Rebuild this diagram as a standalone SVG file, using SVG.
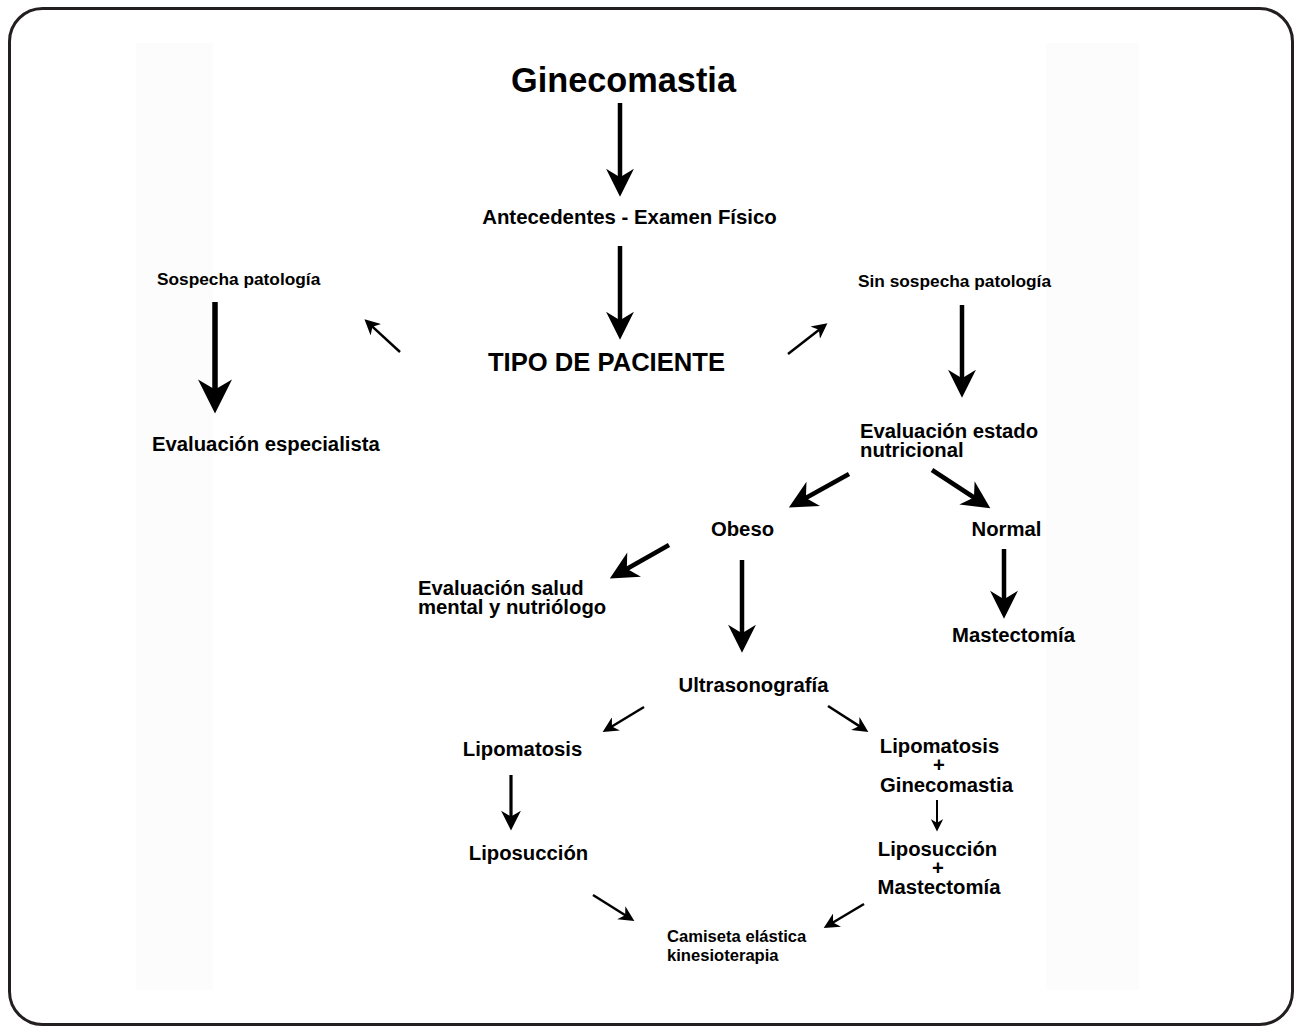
<svg xmlns="http://www.w3.org/2000/svg" width="1299" height="1028" viewBox="0 0 1299 1028">
<style>
text{font-family:"Liberation Sans",Arial,Helvetica,sans-serif;font-weight:bold;fill:#000}
.m{font-size:20.3px}
.s{font-size:17.3px}
.c{text-anchor:middle}
.a{fill:none;stroke:#000;marker-end:url(#h)}
.thick{stroke-width:4.5}
.thin{stroke-width:2.5}
</style>
<defs>
<marker id="h" viewBox="0 0 10 10" refX="4" refY="5" markerWidth="7.5" markerHeight="6.2" orient="auto" markerUnits="strokeWidth">
<path d="M0,0 L10,5 L0,10 L3,5 Z" fill="#000"/>
</marker>
</defs>
<rect x="9.5" y="8.5" width="1283" height="1016" rx="33" ry="33" fill="#fff" stroke="#231f20" stroke-width="3"/>
<rect x="136" y="43" width="77" height="947" fill="#fcfcfc"/>
<rect x="1046" y="43" width="93" height="947" fill="#fcfcfc"/>

<g id="connectors">
<path class="a thick" d="M620,103 L620,180"/>
<path class="a thick" d="M620,246 L620,323"/>
<path class="a thin" d="M400,352 L371.3,325.6"/>
<path class="a thin" d="M788,354 L820.1,328.9"/>
<path class="a" stroke-width="5.5" d="M215,302 L215,393"/>
<path class="a thick" d="M962,305 L962,381"/>
<path class="a thick" d="M849,474 L803.5,499.3"/>
<path class="a thick" d="M932,470 L976.3,499"/>
<path class="a thick" d="M669,545 L624.4,570.2"/>
<path class="a thick" d="M742,560 L742,636"/>
<path class="a thick" d="M1004,549 L1004,602"/>
<path class="a thin" d="M644,707 L610.6,727.2"/>
<path class="a thin" d="M828,706 L860.5,726.9"/>
<path class="a" stroke-width="3.2" d="M511,775 L511,818.6"/>
<path class="a" stroke-width="2" d="M937,800 L937,824"/>
<path class="a thin" d="M593,895 L626.5,916"/>
<path class="a thin" d="M864,904 L831.7,923.3"/>
</g>

<g id="n-ginecomastia"><text x="623.5" y="92" class="c" font-size="34.3">Ginecomastia</text></g>
<g id="n-antecedentes"><text x="629.5" y="224" class="c" font-size="20.4">Antecedentes - Examen Físico</text></g>
<g id="n-tipo"><text x="606.5" y="371" class="c" font-size="25.6">TIPO DE PACIENTE</text></g>
<g id="n-sospecha"><text x="157" y="285" class="s">Sospecha patología</text></g>
<g id="n-sin-sospecha"><text x="858" y="287" class="s">Sin sospecha patología</text></g>
<g id="n-especialista"><text x="152" y="451" class="m" font-size="20.4">Evaluación especialista</text></g>
<g id="n-nutricional"><text x="860" y="438" class="m">Evaluación estado</text><text x="860" y="457" class="m">nutricional</text></g>
<g id="n-obeso"><text x="742.5" y="536" class="m c">Obeso</text></g>
<g id="n-normal"><text x="1006.5" y="536" class="m c">Normal</text></g>
<g id="n-salud"><text x="418" y="595" class="m">Evaluación salud</text><text x="418" y="614" class="m">mental y nutriólogo</text></g>
<g id="n-mastectomia"><text x="1013.5" y="642" class="m c">Mastectomía</text></g>
<g id="n-ultrasonografia"><text x="753.5" y="692" class="m c">Ultrasonografía</text></g>
<g id="n-lipomatosis"><text x="522.5" y="756" class="m c">Lipomatosis</text></g>
<g id="n-lipo-gineco"><text x="939.5" y="753" class="m c">Lipomatosis</text><text x="939" y="772" class="m c">+</text><text x="946.5" y="792" class="m c">Ginecomastia</text></g>
<g id="n-liposuccion"><text x="528.5" y="860" class="m c">Liposucción</text></g>
<g id="n-lipo-mast"><text x="937.5" y="856" class="m c">Liposucción</text><text x="938" y="875" class="m c">+</text><text x="939" y="894" class="m c">Mastectomía</text></g>
<g id="n-camiseta"><text x="667" y="942" font-size="16.6">Camiseta elástica</text><text x="667" y="961" font-size="16.6">kinesioterapia</text></g>
</svg>
